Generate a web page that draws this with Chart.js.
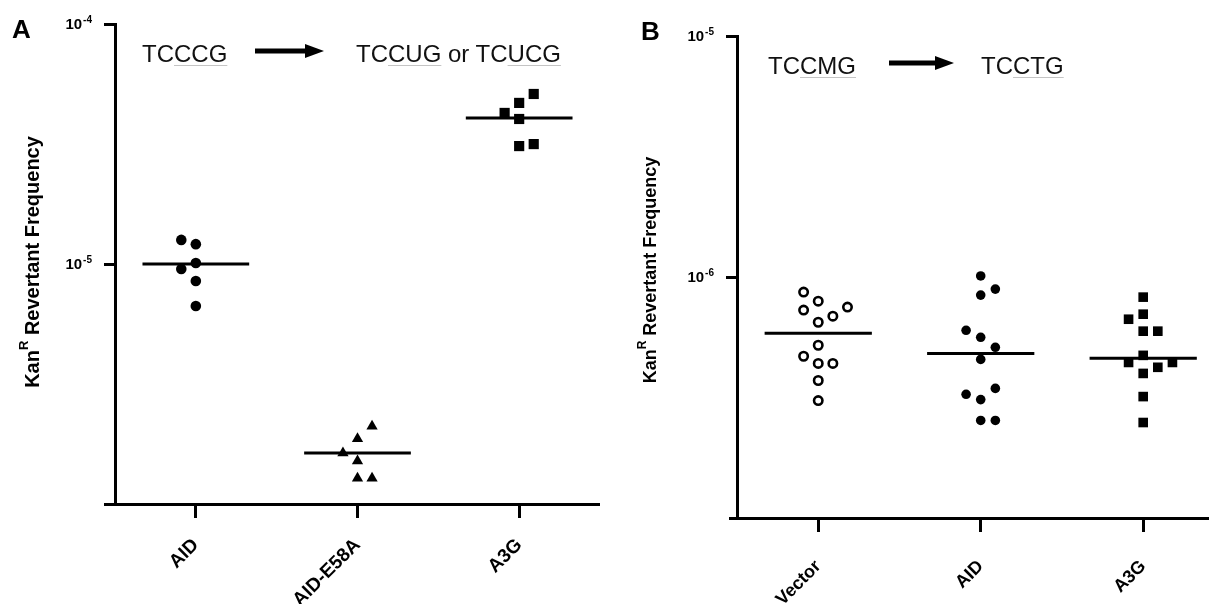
<!DOCTYPE html>
<html>
<head>
<meta charset="utf-8">
<script src="https://cdn.jsdelivr.net/npm/chart.js@4.4.1/dist/chart.umd.min.js"></script>
<style>
  html, body { margin: 0; padding: 0; background: #fff; }
  body { width: 1209px; height: 604px; position: relative; overflow: hidden; font-family: "Liberation Sans", Arial, sans-serif; color: #000; }
  .panel { position: absolute; top: 0; height: 604px; }
  #panelA { left: 0; width: 600px; }
  #panelB { left: 600px; width: 609px; }
  .tag { position: absolute; font-size: 26px; font-weight: bold; line-height: 1; }
  .note { position: absolute; font-size: 24px; line-height: 1; white-space: nowrap; color: #111; }
  .note u { text-decoration-color: #c4c4c4; text-decoration-thickness: 1px; text-underline-offset: 3px; }
  .arrow { position: absolute; }
</style>
</head>
<body>
<div class="panel" id="panelA"><canvas id="chartA"></canvas></div>
<div class="panel" id="panelB"><canvas id="chartB"></canvas></div>

<div class="tag" style="left:12px;top:16px;">A</div>
<div class="tag" style="left:641px;top:18px;">B</div>

<div class="note" style="left:142px;top:42px;">TC<u>CCG</u></div>
<svg class="arrow" style="left:255px;top:43px;" width="70" height="16"><line x1="0" y1="8" x2="54" y2="8" stroke="#000" stroke-width="5"/><polygon points="50,1 69,8 50,15" fill="#000"/></svg>
<div class="note" style="left:356px;top:42px;">TC<u>CUG</u> or TC<u>UCG</u></div>

<div class="note" style="left:768px;top:54px;">TC<u>CMG</u></div>
<svg class="arrow" style="left:889px;top:55px;" width="66" height="16"><line x1="0" y1="8" x2="50" y2="8" stroke="#000" stroke-width="5"/><polygon points="46,1 65,8 46,15" fill="#000"/></svg>
<div class="note" style="left:981px;top:54px;">TC<u>CTG</u></div>

<script>
// panel A: TCCCG reporter
const groupsA = ["AID", "AID-E58A", "A3G"];
const aidA = [1.26e-5, 1.21e-5, 1.01e-5, 0.953e-5, 0.85e-5, 0.668e-5];
const aidColsA = [-1, 0, 0, -1, 0, 0];
const e58aA = [2.11e-6, 1.87e-6, 1.63e-6, 1.51e-6, 1.28e-6, 1.28e-6];
const e58aColsA = [1, 0, -1, 0, 0, 1];
const a3gA = [5.11e-5, 4.69e-5, 4.26e-5, 4.02e-5, 3.16e-5, 3.1e-5];
const a3gColsA = [1, 0, -1, 0, 1, 0];
const centerLinesA = [1.0e-5, 1.63e-6, 4.06e-5];
const yTicksA = [1e-5, 1e-4];

// panel B: TCCMG reporter
const groupsB = ["Vector", "AID", "A3G"];
const vectorB = [8.66e-7, 7.94e-7, 7.5e-7, 7.29e-7, 6.88e-7, 6.49e-7, 5.21e-7, 4.69e-7, 4.38e-7, 4.38e-7, 3.72e-7, 3.07e-7];
const vectorColsB = [-1, 0, 2, -1, 1, 0, 0, -1, 0, 1, 0, 0];
const aidB = [1.01e-6, 8.91e-7, 8.41e-7, 6.01e-7, 5.62e-7, 5.11e-7, 4.55e-7, 3.45e-7, 3.26e-7, 3.1e-7, 2.54e-7, 2.54e-7];
const aidColsB = [0, 1, 0, -1, 0, 1, 0, 1, -1, 0, 0, 1];
const a3gB = [8.25e-7, 7.01e-7, 6.68e-7, 5.96e-7, 5.96e-7, 4.73e-7, 4.42e-7, 4.42e-7, 4.22e-7, 3.98e-7, 3.19e-7, 2.49e-7];
const a3gColsB = [0, 0, -1, 0, 1, 0, -1, 2, 1, 0, 0, 0];
const centerLinesB = [5.84e-7, 4.82e-7, 4.6e-7];
const yTicksB = [1e-6, 1e-5];

const FONT = '"Liberation Sans", Arial, sans-serif';
const COL_STEP = 0.09;   // jitter column width, in category units
const HALF_LINE = 0.33;  // half width of the centre line

Chart.defaults.font.family = FONT;
Chart.defaults.color = "#000";

function pointsFor(index, values, cols) {
  return values.map((v, k) => ({ x: index + cols[k] * COL_STEP, y: v }));
}

function centerLineData(lines) {
  const out = [];
  lines.forEach((m, i) => {
    out.push({ x: i - HALF_LINE, y: m }, { x: i + HALF_LINE, y: m }, { x: i + 0.5, y: null });
  });
  return out;
}

// draws 10^n labels, y title with superscript, and the x axis stub left of the y axis
const axisDecor = {
  id: "axisDecor",
  afterDraw(chart, args, opts) {
    const { ctx, chartArea } = chart;
    const ys = chart.scales.y;
    ctx.save();
    ctx.fillStyle = "#000";
    ctx.strokeStyle = "#000";

    ctx.lineWidth = 3;
    ctx.beginPath();
    ctx.moveTo(chartArea.left - opts.stub, chartArea.bottom + 0.5);
    ctx.lineTo(chartArea.left, chartArea.bottom + 0.5);
    ctx.stroke();

    ctx.textBaseline = "alphabetic";
    ys.ticks.forEach((t) => {
      const y = ys.getPixelForValue(t.value);
      const exp = String(Math.round(Math.log10(t.value)));
      ctx.font = `bold 10px ${FONT}`;
      const ew = ctx.measureText(exp).width;
      const right = chartArea.left - 23;
      ctx.textAlign = "left";
      ctx.fillText(exp, right - ew, y - 1);
      ctx.font = `bold 15px ${FONT}`;
      ctx.textAlign = "right";
      ctx.fillText("10", right - ew - 1, y + 5);
    });

    const big = `bold ${opts.titleSize}px ${FONT}`;
    const small = `bold ${Math.round(opts.titleSize * 0.65)}px ${FONT}`;
    ctx.font = big;
    const w1 = ctx.measureText("Kan").width;
    const w3 = ctx.measureText(" Revertant Frequency").width;
    ctx.font = small;
    const w2 = ctx.measureText("R").width;
    const total = w1 + w2 + w3;
    ctx.translate(opts.titleX, opts.titleY);
    ctx.rotate(-Math.PI / 2);
    ctx.textAlign = "left";
    ctx.textBaseline = "middle";
    let x = -total / 2;
    ctx.font = big;
    ctx.fillText("Kan", x, 0);
    x += w1;
    ctx.font = small;
    ctx.fillText("R", x, -opts.titleSize * 0.45);
    x += w2;
    ctx.font = big;
    ctx.fillText(" Revertant Frequency", x, 0);
    ctx.restore();
  }
};

function buildChart(canvasId, cfg) {
  const datasets = cfg.series.map((s, i) => ({
    data: pointsFor(i, s.values, s.cols),
    pointStyle: s.style,
    pointRadius: s.radius,
    backgroundColor: s.fill,
    borderColor: "#000",
    borderWidth: s.border,
    order: 2
  }));
  datasets.push({
    data: centerLineData(cfg.lines),
    showLine: true,
    spanGaps: false,
    pointRadius: 0,
    borderColor: "#000",
    borderWidth: 3,
    order: 1
  });

  return new Chart(document.getElementById(canvasId), {
    type: "scatter",
    data: { datasets },
    options: {
      responsive: true,
      maintainAspectRatio: false,
      animation: false,
      events: [],
      layout: { autoPadding: false, padding: { top: cfg.top, left: 0, right: 0, bottom: 0 } },
      plugins: {
        legend: { display: false },
        tooltip: { enabled: false },
        axisDecor: { stub: cfg.stub, titleX: cfg.titleX, titleY: cfg.titleY, titleSize: cfg.titleSize }
      },
      scales: {
        x: {
          type: "linear",
          min: -0.5,
          max: cfg.xMax,
          afterBuildTicks: (s) => { s.ticks = cfg.groups.map((_, i) => ({ value: i })); },
          afterFit: (s) => {
            s.height = cfg.xHeight;
            s.paddingLeft = 0;
            s.paddingRight = 0;
          },
          ticks: {
            autoSkip: false,
            minRotation: 45,
            maxRotation: 45,
            padding: cfg.labelPad,
            color: "#000",
            font: { size: cfg.labelSize, weight: "bold" },
            callback: (v, i) => cfg.groups[i]
          },
          grid: { drawOnChartArea: false, drawTicks: true, tickLength: 14, tickWidth: 3, color: "#000" },
          border: { display: true, width: 3, color: "#000" }
        },
        y: {
          type: "logarithmic",
          min: cfg.yMin,
          max: cfg.yMax,
          afterBuildTicks: (s) => { s.ticks = cfg.yTicks.map((v) => ({ value: v })); },
          afterFit: (s) => {
            s.width = cfg.yWidth;
            s.paddingTop = 0;
            s.paddingBottom = 0;
          },
          ticks: { callback: () => "", padding: 0 },
          grid: { drawOnChartArea: false, drawTicks: true, tickLength: 11, tickWidth: 3, color: "#000" },
          border: { display: true, width: 3, color: "#000" }
        }
      }
    },
    plugins: [axisDecor]
  });
}

buildChart("chartA", {
  groups: groupsA,
  series: [
    { values: aidA, cols: aidColsA, style: "circle", radius: 5.3, fill: "#000", border: 0 },
    { values: e58aA, cols: e58aColsA, style: "triangle", radius: 6.5, fill: "#000", border: 0 },
    { values: a3gA, cols: a3gColsA, style: "rect", radius: 7.2, fill: "#000", border: 0 }
  ],
  lines: centerLinesA,
  yTicks: yTicksA,
  yMin: 1e-6,
  yMax: 1e-4,
  xMax: 2.5,
  top: 24,
  xHeight: 100,
  yWidth: 115,
  stub: 11,
  labelSize: 19,
  labelPad: 16,
  titleSize: 20,
  titleX: 33,
  titleY: 262
});

buildChart("chartB", {
  groups: groupsB,
  series: [
    { values: vectorB, cols: vectorColsB, style: "circle", radius: 4.2, fill: "#fff", border: 2.6 },
    { values: aidB, cols: aidColsB, style: "circle", radius: 4.8, fill: "#000", border: 0 },
    { values: a3gB, cols: a3gColsB, style: "rect", radius: 6.8, fill: "#000", border: 0 }
  ],
  lines: centerLinesB,
  yTicks: yTicksB,
  yMin: 1e-7,
  yMax: 1e-5,
  xMax: 2.405,
  top: 36,
  xHeight: 86,
  yWidth: 137,
  stub: 8,
  labelSize: 18,
  labelPad: 24,
  titleSize: 18,
  titleX: 51,
  titleY: 270
});
</script>
</body>
</html>
